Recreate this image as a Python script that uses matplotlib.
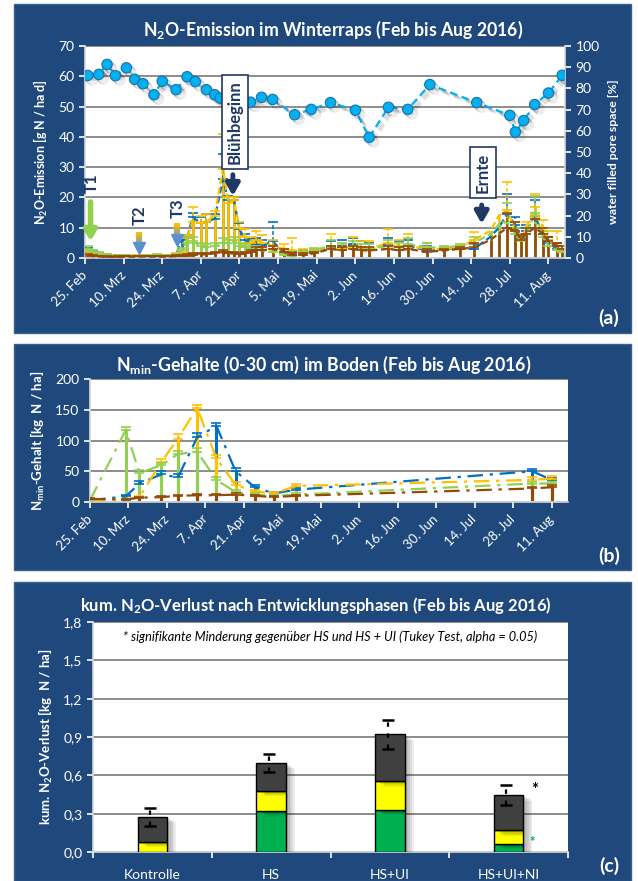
import numpy as np
import pandas as pd
import matplotlib
matplotlib.use('Agg')
import matplotlib.pyplot as plt
import matplotlib.dates as mdates
import matplotlib.colors as mcolors
import matplotlib.patheffects as pe
from matplotlib.patches import Rectangle
from matplotlib.collections import LineCollection

plt.rcParams['font.family'] = ['Lato', 'DejaVu Sans']
plt.rcParams['mathtext.fontset'] = 'custom'
plt.rcParams['mathtext.rm'] = 'Lato'
plt.rcParams['mathtext.it'] = 'Lato:italic'
plt.rcParams['mathtext.bf'] = 'Lato:bold'
plt.rcParams['mathtext.default'] = 'bf'

YEAR = '2016-'

# ---------------- N2O fluxes [g N / ha d] ----------------
n2o_dates = ['02-26', '02-28', '03-01', '03-04', '03-08', '03-11', '03-15', '03-18', '03-22', '03-25', '03-29', '03-31',
             '04-02', '04-04', '04-07', '04-09', '04-12', '04-15', '04-17', '04-19', '04-21', '04-23', '04-25', '04-27', '04-29',
             '05-03', '05-07', '05-10', '05-14', '05-18', '05-24', '05-28',
             '06-01', '06-04', '06-07', '06-14', '06-18', '06-21', '06-28',
             '07-04', '07-10', '07-15', '07-21', '07-24', '07-27', '07-30',
             '08-01', '08-03', '08-06', '08-09', '08-11', '08-14', '08-16']
n2o_kontrolle = [0.8, 0.6, 0.5, 0.4, 0.4, 0.5, 0.5, 0.6, 0.5, 0.5, 0.6, 0.7,
                 0.8, 1.0, 1.2, 1.2, 1.5, 2.0, 1.5, 1.5, 1.2, 1.5, 2.0, 2.5, 2.5,
                 3.0, 2.0, 1.0, 1.0, 1.5, 3.0, 2.5,
                 3.0, 2.5, 2.5, 3.0, 2.5, 3.0, 2.0,
                 2.5, 3.0, 3.5, 6.0, 8.0, 10.0, 9.0,
                 6.0, 8.0, 10.0, 8.0, 5.5, 4.0, 3.0]
n2o_hs = [1.5, 1.2, 1.0, 0.8, 0.6, 0.6, 0.7, 0.8, 0.9, 0.8, 1.2, 1.5,
          6.5, 12.0, 11.5, 12.0, 14.0, 29.5, 18.0, 19.0, 10.0, 7.0, 5.0, 6.0, 5.0,
          4.0, 3.0, 2.5, 2.0, 2.0, 4.0, 3.0,
          4.0, 3.5, 3.0, 5.0, 4.0, 4.0, 3.0,
          3.0, 3.5, 6.0, 9.0, 14.0, 16.0, 9.0,
          6.0, 10.0, 17.0, 10.0, 6.0, 4.0, 2.0]
n2o_hs_ui = [2.0, 1.5, 1.2, 0.8, 0.6, 0.5, 0.5, 0.5, 0.6, 0.5, 0.8, 6.0,
             6.5, 13.5, 11.5, 11.9, 13.0, 26.0, 19.0, 19.0, 9.5, 6.0, 4.8, 4.5, 4.0,
             5.5, 2.0, 1.0, 1.5, 2.0, 3.5, 4.0,
             4.5, 3.5, 3.0, 4.5, 3.5, 4.0, 2.5,
             3.0, 3.0, 3.0, 7.0, 10.0, 14.5, 11.0,
             6.5, 9.0, 14.0, 8.0, 5.0, 3.0, 2.0]
n2o_hs_ui_ni = [3.0, 2.0, 1.5, 1.0, 0.8, 0.6, 0.5, 0.6, 1.0, 0.8, 1.0, 2.5,
                5.0, 5.5, 4.0, 3.5, 4.0, 5.0, 5.0, 6.0, 4.0, 3.5, 3.0, 3.0, 2.5,
                2.0, 1.0, 0.8, 1.5, 2.5, 4.0, 3.5,
                4.0, 3.0, 3.0, 4.0, 3.5, 4.5, 3.5,
                3.5, 4.0, 5.0, 8.0, 11.0, 12.0, 8.0,
                5.5, 8.0, 15.0, 7.0, 4.0, 2.5, 2.0]
n2o_err_kontrolle = [0.4, 0.3, 0.3, 0.2, 0.2, 0.2, 0.2, 0.2, 0.2, 0.2, 0.3, 0.3,
                     0.4, 0.5, 0.5, 0.6, 0.6, 0.8, 0.6, 0.6, 0.5, 0.6, 0.8, 1.0, 1.0,
                     1.0, 1.0, 0.5, 0.5, 0.5, 1.0, 1.0,
                     1.0, 1.0, 1.0, 1.0, 1.0, 1.0, 1.0,
                     0.5, 0.5, 1.5, 0.0, 0.0, 5.0, 3.0,
                     1.5, 2.0, 3.0, 2.0, 1.5, 1.0, 1.0]
n2o_err_hs = [0.8, 0.6, 0.5, 0.4, 0.3, 0.3, 0.3, 0.3, 0.3, 0.3, 0.4, 0.6,
              1.0, 5.0, 2.5, 2.5, 1.5, 11.5, 2.0, 1.0, 2.0, 2.5, 2.0, 3.0, 2.5,
              2.0, 1.5, 4.0, 1.0, 1.0, 4.0, 1.5,
              3.0, 2.0, 2.5, 4.5, 2.0, 4.0, 2.0,
              0.5, 0.5, 2.5, 0.0, 0.0, 9.0, 3.0,
              2.0, 2.0, 4.0, 2.5, 3.0, 5.0, 1.0]
n2o_err_hs_ui = [1.2, 0.8, 0.5, 0.4, 0.3, 0.3, 0.3, 0.3, 0.3, 0.3, 0.4, 1.0,
                 1.0, 1.5, 2.0, 2.5, 1.5, 8.5, 1.5, 1.0, 2.0, 2.0, 1.5, 2.0, 2.0,
                 6.5, 1.0, 1.0, 1.0, 1.0, 2.0, 2.0,
                 2.0, 2.0, 2.0, 2.0, 2.0, 2.0, 1.5,
                 0.5, 0.5, 1.5, 0.0, 0.0, 6.5, 2.5,
                 1.5, 2.0, 5.0, 2.0, 2.0, 2.0, 1.0]
n2o_err_hs_ui_ni = [1.0, 0.8, 0.6, 0.4, 0.3, 0.3, 0.3, 0.3, 0.3, 0.3, 0.4, 0.8,
                    2.0, 1.5, 1.0, 1.0, 1.0, 1.5, 1.0, 1.0, 1.0, 1.0, 1.0, 1.0, 1.0,
                    1.0, 0.5, 0.5, 0.8, 0.8, 2.0, 1.5,
                    1.5, 1.5, 1.5, 2.0, 1.5, 2.0, 1.5,
                    0.5, 0.5, 2.0, 0.0, 0.0, 6.0, 2.0,
                    1.5, 2.0, 5.5, 2.0, 2.0, 1.5, 1.0]

# ---------------- water filled pore space [%] ----------------
wfps_dates = ['02-26', '03-01', '03-04', '03-07', '03-11', '03-14', '03-17', '03-21', '03-24', '03-29',
              '04-02', '04-05', '04-09', '04-12', '04-14', '04-19', '04-25', '04-29',
              '05-03', '05-11', '05-17', '05-24', '06-02', '06-07', '06-14', '06-21', '06-29',
              '07-16', '07-28', '07-30', '08-02', '08-06', '08-11', '08-16']
wfps = [86.1, 86.6, 91.3, 86.0, 89.7, 84.3, 82.2, 77.0, 83.4, 79.4,
        85.5, 83.2, 79.4, 77.0, 75.4, 74.0, 73.5, 75.8,
        74.8, 67.6, 70.1, 73.3, 69.7, 56.9, 71.1, 70.1, 81.8,
        73.3, 67.3, 59.4, 64.8, 72.4, 77.8, 86.2]

# ---------------- Nmin 0-30 cm [kg N / ha] ----------------
nmin_dates = ['02-25', '03-09', '03-14', '03-22', '03-28', '04-04', '04-11', '04-18',
              '04-25', '05-02', '05-10', '08-04', '08-11']
nmin_kontrolle = [5, 4, 7, 8, 10, 11, 11, 12, 10, 8, 10, 22, 24]
nmin_hs = [3, 4, 8, 65, 103, 153, 71, 28, 17, 14, 26, 36, 38]
nmin_hs_ui = [3, 9, 30, 45, 40, 105, 124, 50, 24, 14, 20, 50, 36]
nmin_hs_ui_ni = [3, 117, 47, 60, 78, 82, 36, 16, 12, 10, 12, 30, 30]
nmin_err_kontrolle = [1, 1, 1, 2, 2, 2, 2, 2, 2, 2, 2, 3, 3]
nmin_err_hs = [1, 1, 2, 5, 8, 5, 6, 4, 3, 3, 4, 4, 4]
nmin_err_hs_ui = [1, 2, 4, 5, 5, 8, 5, 6, 4, 3, 3, 3, 3]
nmin_err_hs_ui_ni = [1, 5, 5, 4, 5, 6, 5, 3, 3, 2, 2, 3, 3]

# ---------------- cumulative N2O loss by growth phase [kg N / ha] ----------------
treatments = ['Kontrolle', 'HS', 'HS+UI', 'HS+UI+NI']
phase_1 = [0.0, 0.32, 0.33, 0.065]
phase_2 = [0.08, 0.16, 0.225, 0.105]
phase_3 = [0.195, 0.22, 0.365, 0.275]
total_err = [0.068, 0.07, 0.11, 0.08]

tick_dates = ['02-25', '03-10', '03-24', '04-07', '04-21', '05-05', '05-19',
              '06-02', '06-16', '06-30', '07-14', '07-28', '08-11']
tick_labels = ['25. Feb', '10. Mrz', '24. Mrz', '7. Apr', '21. Apr', '5. Mai', '19. Mai',
               '2. Jun', '16. Jun', '30. Jun', '14. Jul', '28. Jul', '11. Aug']

series_colors = {'Kontrolle': '#984807', 'HS': '#FFC000', 'HS+UI': '#0070C0', 'HS+UI+NI': '#92D050'}
PANEL = '#1F497D'
NAVY = '#1F3864'
GRID = '#8C8C8C'


def to_num(days):
    return mdates.date2num(pd.to_datetime([YEAR + d for d in days]).to_pydatetime())


X0 = mdates.date2num(pd.Timestamp('2016-02-25').to_pydatetime())


def soft_line_shadow(n=4, step=0.8, alpha=0.09):
    return [pe.SimpleLineShadow(offset=(step * (i + 1), -step * (i + 1)), shadow_color='black',
                                alpha=alpha) for i in range(n)] + [pe.Normal()]


def soft_patch_shadow(n=5, step=1.3, alpha=0.07):
    return [pe.SimplePatchShadow(offset=(step * (i + 1), -0.6 * step * (i + 1)),
                                 shadow_rgbFace='black', alpha=alpha) for i in range(n)] + [pe.Normal()]


def style_axes(ax):
    ax.set_facecolor('white')
    for s in ['top', 'right']:
        ax.spines[s].set_visible(False)
    for s in ['left', 'bottom']:
        ax.spines[s].set_color('#D9D9D9')
        ax.spines[s].set_linewidth(1.2)
    ax.tick_params(colors='white', labelcolor='white', direction='out', length=4, width=1.2, labelsize=10)
    ax.grid(axis='y', color=GRID, lw=1.4)
    ax.set_axisbelow(True)


def date_axis(ax):
    ax.set_xlim(X0, X0 + 174)
    ax.set_xticks(to_num(tick_dates))
    ax.set_xticklabels(tick_labels, rotation=45, ha='right', va='center',
                       rotation_mode='anchor', fontsize=9.5)
    ax.tick_params(axis='x', pad=7)


def draw_series(ax, x, vals, errs, color, ls, stem_lw):
    vals = np.asarray(vals, float)
    errs = np.asarray(errs, float)
    ax.vlines(x, 0, vals, colors=color, lw=stem_lw, zorder=2)
    ax.plot(x, vals, color=color, lw=1.6, ls=ls, zorder=3)
    m = errs > 0
    eb = ax.errorbar(x[m], vals[m], yerr=[np.zeros(m.sum()), errs[m]], fmt='none',
                     ecolor=color, elinewidth=1.1, capsize=3.5, capthick=1.2, zorder=3)
    eb[2][0].set_linestyle((0, (2.5, 1.5)))


def grad_arrow(ax, x, y_top, y_bot, c_top, c_bot, lw=4.5):
    n = 30
    ys = np.linspace(y_top, y_bot, n + 1)
    segs = [[(x, ys[i]), (x, ys[i + 1])] for i in range(n)]
    a, b = np.array(mcolors.to_rgb(c_top)), np.array(mcolors.to_rgb(c_bot))
    cols = [tuple(a + (b - a) * i / (n - 1)) for i in range(n)]
    ax.add_collection(LineCollection(segs, colors=cols, linewidths=lw, zorder=6))
    ax.plot([x], [y_bot], marker='v', ms=8, color=c_bot, zorder=6, clip_on=False)


def solid_arrow(ax, x, y_top, y_bot, color, lw=4.5, head=9):
    ax.annotate('', xy=(x, y_bot), xytext=(x, y_top),
                arrowprops=dict(arrowstyle='-|>,head_width=0.35,head_length=0.6', color=color,
                                lw=lw, mutation_scale=head, shrinkA=0, shrinkB=0),
                zorder=7)


fig = plt.figure(figsize=(6.38, 8.81), dpi=100)
W, H = 638.0, 881.0


def panel_box(y_top, y_bot):
    fig.add_artist(Rectangle((14 / W, 1 - y_bot / H), 617 / W, (y_bot - y_top) / H,
                             transform=fig.transFigure, fc=PANEL, ec='#3B5F8C', lw=1, zorder=-5))


def axes_px(x0, x1, y0, y1):
    return fig.add_axes([x0 / W, 1 - y1 / H, (x1 - x0) / W, (y1 - y0) / H])


panel_box(4, 333)
panel_box(344, 570)
panel_box(582, 881)

# ======================= (a) N2O emission =======================
ax = axes_px(85, 565, 46, 258)
style_axes(ax)
ax.set_ylim(0, 70)
ax.set_yticks(np.arange(0, 71, 10))
date_axis(ax)

xn = to_num(n2o_dates)
n2o_vals = [n2o_hs_ui, n2o_hs, n2o_hs_ui_ni, n2o_kontrolle]
n2o_errs = [n2o_err_hs_ui, n2o_err_hs, n2o_err_hs_ui_ni, n2o_err_kontrolle]
for name, v, e in zip(['HS+UI', 'HS', 'HS+UI+NI', 'Kontrolle'], n2o_vals, n2o_errs):
    draw_series(ax, xn, v, e, series_colors[name], (0, (3, 1.6)), 1.9)

ax.set_ylabel(r'N$_2$O-Emission [g N / ha d]', color='white', fontsize=9, fontweight='bold', labelpad=6)

ax2 = ax.twinx()
ax2.set_ylim(0, 100)
ax2.set_yticks(np.arange(0, 101, 10))
for s in ['top', 'left', 'bottom']:
    ax2.spines[s].set_visible(False)
ax2.spines['right'].set_color('#D9D9D9')
ax2.spines['right'].set_linewidth(1.2)
ax2.tick_params(colors='white', labelcolor='white', direction='out', length=4, width=1.2, labelsize=10)
ax2.set_ylabel('water filled pore space [%]', color='white', fontsize=8.8, fontweight='bold',
               labelpad=6)
xw = to_num(wfps_dates)
ax2.plot(xw, wfps, color='#00B0F0', lw=1.6, ls=(0, (3.5, 2)), marker='o', ms=7.5,
         mfc='#00B0F0', mec='#1F6FA8', mew=0.8, zorder=4, path_effects=soft_line_shadow())

# fertilisation dates
T = ax.transData
ax2.text(X0 + 2.6, 24.6, 'T1', transform=T, rotation=90, ha='center', va='center',
         color=NAVY, fontsize=12, fontweight='bold', zorder=7)
solid_arrow(ax, X0 + 2.0, 18.5, 5.5, '#92D050', lw=4, head=10)
ax2.text(X0 + 20, 14.3, 'T2', transform=T, rotation=90, ha='center', va='center',
         color=NAVY, fontsize=12, fontweight='bold', zorder=7)
grad_arrow(ax, X0 + 19.4, 8.6, 3.2, '#FFC000', '#5B8FD0')
ax2.text(X0 + 33.8, 16.6, 'T3', transform=T, rotation=90, ha='center', va='center',
         color=NAVY, fontsize=12, fontweight='bold', zorder=7)
grad_arrow(ax, X0 + 33.3, 11.4, 6.0, '#FFC000', '#5B8FD0')

# growth stages
ax2.text(X0 + 54.2, 45, 'Blühbeginn', transform=T, rotation=90, ha='center', va='center',
         color=NAVY, fontsize=12, fontweight='bold', zorder=8,
         bbox=dict(boxstyle='square,pad=0.3', fc='white', ec=NAVY, lw=1.2))
ax2.annotate('', xy=(X0 + 53.6, 20.5), xytext=(X0 + 53.6, 27.5), xycoords=T, textcoords=T,
             arrowprops=dict(arrowstyle='-|>,head_width=0.4,head_length=0.7', color=NAVY, lw=3.5,
                             mutation_scale=10, shrinkA=0, shrinkB=0), zorder=8)
ax2.text(X0 + 144.2, 28.2, 'Ernte', transform=T, rotation=90, ha='center', va='center',
         color=NAVY, fontsize=12, fontweight='bold', zorder=8,
         bbox=dict(boxstyle='square,pad=0.3', fc='white', ec=NAVY, lw=1.2))
ax2.annotate('', xy=(X0 + 143.8, 11.3), xytext=(X0 + 143.8, 17.5), xycoords=T, textcoords=T,
             arrowprops=dict(arrowstyle='-|>,head_width=0.4,head_length=0.7', color=NAVY, lw=3.5,
                             mutation_scale=10, shrinkA=0, shrinkB=0), zorder=8)

fig.text(333 / W, 1 - 30 / H, r'N$_2$O-Emission im Winterraps (Feb bis Aug 2016)', color='white',
         fontsize=12.7, fontweight='bold', ha='center', va='center')
fig.text(609 / W, 1 - 318 / H, '(a)', color='white', fontsize=14, fontweight='bold',
         ha='center', va='center')

# ======================= (b) Nmin =======================
bx = axes_px(90, 568, 379, 502)
style_axes(bx)
bx.set_ylim(0, 200)
bx.set_yticks(np.arange(0, 201, 50))
date_axis(bx)
xm = to_num(nmin_dates)
nmin_vals = [nmin_hs_ui, nmin_hs, nmin_hs_ui_ni, nmin_kontrolle]
nmin_errs = [nmin_err_hs_ui, nmin_err_hs, nmin_err_hs_ui_ni, nmin_err_kontrolle]
for name, v, e in zip(['HS+UI', 'HS', 'HS+UI+NI', 'Kontrolle'], nmin_vals, nmin_errs):
    draw_series(bx, xm, v, e, series_colors[name], (0, (7, 3, 1.5, 3)), 2.2)
bx.set_ylabel(r'N$_{min}$-Gehalt [kg  N / ha]', color='white', fontsize=9.5, fontweight='bold',
              labelpad=6)
fig.text(324 / W, 1 - 365 / H, r'N$_{min}$-Gehalte (0-30 cm) im Boden (Feb bis Aug 2016)',
         color='white', fontsize=12.8, fontweight='bold', ha='center', va='center')
fig.text(609 / W, 1 - 556 / H, '(b)', color='white', fontsize=14, fontweight='bold',
         ha='center', va='center')

# ======================= (c) cumulative loss =======================
cx = axes_px(93, 568, 622, 852)
style_axes(cx)
cx.set_ylim(0, 1.8)
yt = np.arange(0, 1.81, 0.3)
cx.set_yticks(yt)
cx.set_yticklabels([f'{v:.1f}'.replace('.', ',') for v in yt])
cx.set_xlim(-0.5, len(treatments) - 0.5)
cx.set_xticks(np.arange(-0.5, len(treatments)))
cx.set_xticklabels([])
cx.set_xticks(np.arange(len(treatments)), minor=True)
cx.set_xticklabels(treatments, minor=True, fontsize=10)
cx.tick_params(axis='x', which='minor', length=0, pad=12, labelcolor='white')

xpos = np.arange(len(treatments))
b1 = cx.bar(xpos, phase_1, width=0.25, color='#00B050', edgecolor='black', lw=1, zorder=3)
b2 = cx.bar(xpos, phase_2, width=0.25, bottom=phase_1, color='#FFFF00', edgecolor='black', lw=1,
            zorder=3)
bottom3 = np.array(phase_1) + np.array(phase_2)
b3 = cx.bar(xpos, phase_3, width=0.25, bottom=bottom3, color='#404040', edgecolor='black', lw=1,
            zorder=3)
totals = bottom3 + np.array(phase_3)
for bar in list(b1) + list(b2) + list(b3):
    bar.set_path_effects(soft_patch_shadow())
eb = cx.errorbar(xpos - 0.02, totals, yerr=total_err, fmt='none', ecolor='black', elinewidth=1.6,
                 capsize=4, capthick=1.8, zorder=5)
eb[2][0].set_linestyle((0, (2, 3)))
cx.text(3 + 0.22, totals[3] + 0.04, '*', color='black', fontsize=12, fontweight='bold',
        ha='center', va='center', zorder=6)
cx.text(3 + 0.2, phase_1[3] + 0.01, '*', color='#00B050', fontsize=9.5, fontweight='bold',
        ha='center', va='center', zorder=6)
cx.text(0.5, 0.935, '* signifikante Minderung gegenüber HS und HS + UI (Tukey Test, alpha = 0.05)',
        transform=cx.transAxes, ha='center', va='center', fontsize=9.2, style='italic',
        color='black')
cx.set_ylabel(r'kum. N$_2$O-Verlust [kg  N / ha]', color='white', fontsize=9.5, fontweight='bold',
              labelpad=6)
fig.text(316 / W, 1 - 605 / H, r'kum. N$_2$O-Verlust nach Entwicklungsphasen (Feb bis Aug 2016)',
         color='white', fontsize=12, fontweight='bold', ha='center', va='center')
fig.text(609 / W, 1 - 866 / H, '(c)', color='white', fontsize=14, fontweight='bold',
         ha='center', va='center')

fig.savefig('out.png', dpi=100, facecolor='white')
